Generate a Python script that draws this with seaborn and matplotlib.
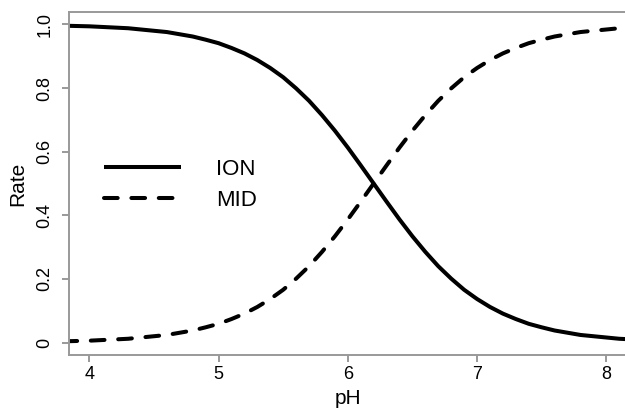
import numpy as np
import pandas as pd
import matplotlib
matplotlib.use("Agg")
import matplotlib.pyplot as plt
import seaborn as sns

# values
ph = [3.8, 3.9, 4.0, 4.1, 4.2, 4.3, 4.4, 4.5, 4.6, 4.7, 4.8, 4.9,
      5.0, 5.1, 5.2, 5.3, 5.4, 5.5, 5.6, 5.7, 5.8, 5.9,
      6.0, 6.1, 6.2, 6.3, 6.4, 6.5, 6.6, 6.7, 6.8, 6.9,
      7.0, 7.1, 7.2, 7.3, 7.4, 7.5, 7.6, 7.7, 7.8, 7.9,
      8.0, 8.1, 8.2]
ion = [0.996, 0.995, 0.994, 0.992, 0.990, 0.988, 0.984, 0.980, 0.976, 0.969, 0.962, 0.952,
       0.941, 0.926, 0.909, 0.888, 0.863, 0.834, 0.799, 0.760, 0.715, 0.666,
       0.613, 0.557, 0.500, 0.443, 0.387, 0.334, 0.285, 0.240, 0.201, 0.166,
       0.137, 0.112, 0.091, 0.074, 0.059, 0.048, 0.038, 0.031, 0.024, 0.020,
       0.016, 0.012, 0.010]
mid = [0.004, 0.005, 0.006, 0.008, 0.010, 0.012, 0.016, 0.020, 0.024, 0.031, 0.038, 0.048,
       0.059, 0.074, 0.091, 0.112, 0.137, 0.166, 0.201, 0.240, 0.285, 0.334,
       0.387, 0.443, 0.500, 0.557, 0.613, 0.666, 0.715, 0.760, 0.799, 0.834,
       0.863, 0.888, 0.909, 0.926, 0.941, 0.952, 0.962, 0.969, 0.976, 0.980,
       0.984, 0.988, 0.990]
x_ticks = [4, 5, 6, 7, 8]
y_ticks = [0, 0.2, 0.4, 0.6, 0.8, 1.0]
y_tick_labels = ["0", "0.2", "0.4", "0.6", "0.8", "1.0"]

df = pd.DataFrame({"pH": ph, "ION": ion, "MID": mid})

plt.rcParams["font.family"] = ["Liberation Sans", "DejaVu Sans"]

fig = plt.figure(figsize=(6.25, 4.08), dpi=100)
ax = fig.add_axes([69 / 625, 53 / 408, 558 / 625, 343 / 408])

sns.lineplot(data=df, x="pH", y="ION", ax=ax, color="black", linewidth=2.9,
             label="ION", solid_capstyle="butt")
sns.lineplot(data=df, x="pH", y="MID", ax=ax, color="black", linewidth=2.9,
             label="MID", linestyle=(0, (3.4, 3.4)), dash_capstyle="round")

ax.set_xlim(3.843, 8.16)
ax.set_ylim(-0.039, 1.039)
ax.set_xticks(x_ticks)
ax.set_yticks(y_ticks)
ax.set_yticklabels(y_tick_labels, rotation=90, va="center")
ax.tick_params(axis="both", colors="#888888", length=5, width=1.2,
               labelcolor="black", labelsize=13, pad=3)
ax.tick_params(axis="y", pad=6)
for s in ax.spines.values():
    s.set_color("#999999")
    s.set_linewidth(1.4)

ax.set_xlabel("pH", fontsize=15, labelpad=4)
ax.set_ylabel("Rate", fontsize=15, labelpad=7)

ax.legend(loc="center left", bbox_to_anchor=(0.062, 0.495), frameon=False,
          fontsize=16, handlelength=3.5, handletextpad=1.55, labelspacing=0.45,
          borderpad=0, borderaxespad=0)

fig.savefig("out.png", dpi=100)
